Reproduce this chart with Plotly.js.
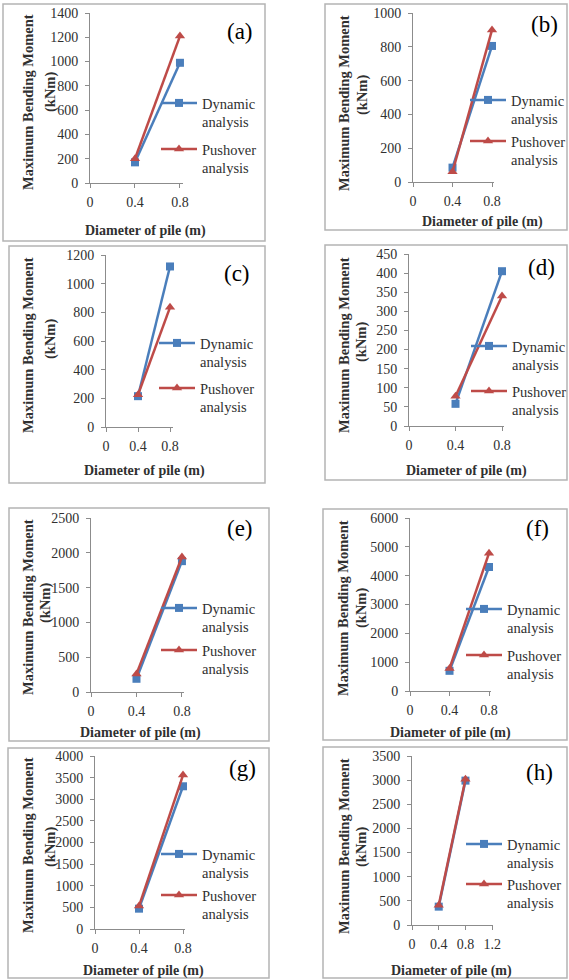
<!DOCTYPE html>
<html>
<head>
<meta charset="utf-8">
<script src="https://cdn.plot.ly/plotly-3.0.1.min.js"></script>
<style>html,body{margin:0;padding:0;background:#fff;}#chart{width:569px;height:980px;}</style>
</head>
<body>
<div id="chart"></div>
<script>
// ---------- DATA ----------
const diameter = [0.4, 0.8];
const panelLabels = ['(a)', '(b)', '(c)', '(d)', '(e)', '(f)', '(g)', '(h)'];
const dynamicA = [170, 990],  pushoverA = [200, 1210];
const dynamicB = [85, 805],   pushoverB = [60, 900];
const dynamicC = [215, 1120], pushoverC = [225, 835];
const dynamicD = [58, 405],   pushoverD = [78, 340];
const dynamicE = [190, 1880], pushoverE = [260, 1940];
const dynamicF = [700, 4300], pushoverF = [780, 4780];
const dynamicG = [470, 3300], pushoverG = [530, 3560];
const dynamicH = [380, 2990], pushoverH = [410, 3020];
const yMax = [1400, 1000, 1200, 450, 2500, 6000, 4000, 3500];
const yStep = [200, 200, 200, 50, 500, 1000, 500, 500];
const xMax = [0.827, 0.82, 0.8375, 0.817, 0.818, 0.82, 0.818, 1.212];
const seriesNames = ['Dynamic<br>analysis', 'Pushover<br>analysis'];
const xTitle = 'Diameter of pile (m)';
const yTitle1 = 'Maximum Bending Moment';
const yTitle2 = '(kNm)';

const dynamicAll = [dynamicA, dynamicB, dynamicC, dynamicD, dynamicE, dynamicF, dynamicG, dynamicH];
const pushoverAll = [pushoverA, pushoverB, pushoverC, pushoverD, pushoverE, pushoverF, pushoverG, pushoverH];

// ---------- LAYOUT GEOMETRY (pixels) ----------
const W = 569, H = 980;
const px = p => p / W;
const py = p => 1 - p / H;
// plot area: [x0, xEnd, yZero, yTop]
const plotBox = [
  [90, 183, 183, 13],
  [413, 494, 182, 13],
  [106, 173, 427, 255],
  [409, 504, 426, 254],
  [91, 184, 692, 518],
  [410, 491, 691, 518],
  [95, 185, 929, 756],
  [412, 493, 925, 756]
];
// frames [x0,y0,x1,y1]
const frames = [
  [3, 4, 265, 241],
  [325, 4, 567, 230],
  [9, 246, 265, 483],
  [325, 245, 567, 480],
  [9, 508, 269, 741],
  [323, 509, 567, 740],
  [8, 748, 269, 978],
  [323, 747, 567, 978]
];
// legend: [textStartX, dynLineY, pushLineY]
const legendPos = [
  [202, 102, 148],
  [511, 99, 140],
  [200, 342, 387],
  [512, 345, 390],
  [202, 607, 649],
  [507, 608, 654],
  [202, 853, 894],
  [507, 843, 883]
];
// panel label centres
const labelPos = [[240, 32], [544, 25], [237, 273], [541, 267], [240, 528], [537, 528], [242, 768], [539, 772]];
// y title centres: [x1, y1, x2, y2]
const yTitlePos = [
  [28, 102, 50, 92], [344, 103, 363, 95], [28, 345, 50, 339], [344, 345, 362, 342],
  [28, 607, 45, 603], [343, 608, 361, 608], [28, 845, 50, 847], [344, 846, 361, 847]
];
const xTitlePos = [[145, 231], [482, 222], [144, 471], [466, 471], [140, 733], [450, 733], [143, 971], [451, 971]];

const BLUE = '#4A7EBB', RED = '#BE4B48';
const SERIF = '"Liberation Serif", "Times New Roman", serif';
const LEG_OFF_Y = 15;
const ITEM_W = 36;

const traces = [];
const layout = {
  width: W, height: H, showlegend: true,
  margin: {l: 0, r: 0, t: 0, b: 0, autoexpand: false},
  paper_bgcolor: '#fff', plot_bgcolor: 'rgba(0,0,0,0)',
  font: {family: SERIF, color: '#303030'},
  shapes: [], annotations: []
};

let legendCount = 0;
function makeLegend(x, y) {
  legendCount++;
  const id = legendCount === 1 ? 'legend' : 'legend' + legendCount;
  layout[id] = {
    x: px(x), y: py(y), xanchor: 'left', yanchor: 'top', itemwidth: ITEM_W,
    bgcolor: 'rgba(0,0,0,0)', borderwidth: 0, valign: 'top', visible: true,
    font: {family: SERIF, size: 14.5, color: '#303030'}
  };
  return id;
}

for (let i = 0; i < 8; i++) {
  const n = i + 1;
  const xa = 'x' + (n === 1 ? '' : n), ya = 'y' + (n === 1 ? '' : n);
  const b = plotBox[i];
  const lp = legendPos[i];
  const legD = makeLegend(lp[0] - ITEM_W - 10, lp[1] - LEG_OFF_Y);
  const legP = makeLegend(lp[0] - ITEM_W - 10, lp[2] - LEG_OFF_Y);
  traces.push({
    x: diameter, y: dynamicAll[i], xaxis: xa, yaxis: ya, type: 'scatter', mode: 'lines+markers',
    name: seriesNames[0], legend: legD, showlegend: true, cliponaxis: false,
    line: {color: BLUE, width: 2.5}, marker: {symbol: 'square', size: 8, color: BLUE}
  });
  traces.push({
    x: diameter, y: pushoverAll[i], xaxis: xa, yaxis: ya, type: 'scatter', mode: 'lines+markers',
    name: seriesNames[1], legend: legP, showlegend: true, cliponaxis: false,
    line: {color: RED, width: 2.5}, marker: {symbol: 'triangle-up', size: 9, color: RED}
  });
  const axCommon = {
    showgrid: false, zeroline: false, showline: true, linecolor: '#8c8c8c', linewidth: 1,
    ticks: 'outside', ticklen: 4, tickcolor: '#8c8c8c', fixedrange: true,
    tickfont: {family: SERIF, size: 14, color: '#303030'}
  };
  layout['xaxis' + (n === 1 ? '' : n)] = Object.assign({}, axCommon, {
    domain: [px(b[0]), px(b[1])], anchor: ya, range: [0, xMax[i]],
    tickmode: 'linear', tick0: 0, dtick: 0.4, ticklabelstandoff: 2
  });
  layout['yaxis' + (n === 1 ? '' : n)] = Object.assign({}, axCommon, {
    domain: [py(b[2]), py(b[3])], anchor: xa, range: [0, yMax[i]],
    tickmode: 'linear', tick0: 0, dtick: yStep[i], ticklabelstandoff: 4
  });
  const f = frames[i];
  layout.shapes.push({type: 'rect', xref: 'paper', yref: 'paper', x0: px(f[0]), x1: px(f[2]), y0: py(f[1]), y1: py(f[3]),
    line: {color: '#b4b4b4', width: 1.5}, layer: 'below'});
  layout.annotations.push({xref: 'paper', yref: 'paper', x: px(labelPos[i][0]), y: py(labelPos[i][1]),
    xanchor: 'center', yanchor: 'middle', showarrow: false, text: panelLabels[i],
    font: {family: SERIF, size: 23, color: '#000'}});
  const yt = yTitlePos[i];
  layout.annotations.push({xref: 'paper', yref: 'paper', x: px(yt[0]), y: py(yt[1]),
    xanchor: 'center', yanchor: 'middle', showarrow: false, text: yTitle1, textangle: -90,
    font: {family: SERIF, size: 14.5, weight: 700, color: '#303030'}});
  layout.annotations.push({xref: 'paper', yref: 'paper', x: px(yt[2]), y: py(yt[3]),
    xanchor: 'center', yanchor: 'middle', showarrow: false, text: yTitle2, textangle: -90,
    font: {family: SERIF, size: 14.5, weight: 700, color: '#303030'}});
  const xt = xTitlePos[i];
  layout.annotations.push({xref: 'paper', yref: 'paper', x: px(xt[0]), y: py(xt[1]),
    xanchor: 'center', yanchor: 'middle', showarrow: false, text: xTitle,
    font: {family: SERIF, size: 14, weight: 700, color: '#303030'}});
}

Plotly.newPlot('chart', traces, layout, {staticPlot: true, displayModeBar: false});
</script>
</body>
</html>
